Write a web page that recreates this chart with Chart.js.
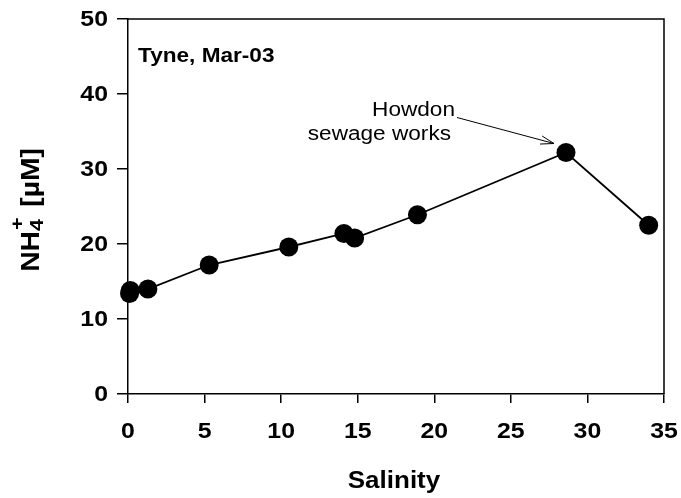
<!DOCTYPE html>
<html>
<head>
<meta charset="utf-8">
<script src="https://cdn.jsdelivr.net/npm/chart.js@4.4.1/dist/chart.umd.min.js"></script>
<style>
  html, body { margin: 0; padding: 0; background: #fff; }
  #wrap { width: 681px; height: 498px; }
</style>
</head>
<body>
<div id="wrap"><canvas id="c" width="681" height="498"></canvas></div>
<script>
// Tyne estuary, March 2003: ammonium against salinity
const salinity = [0.1, 0.15, 1.3, 5.3, 10.5, 14.1, 14.8, 18.9, 28.6, 34.0];
const ammonium = [13.4, 13.8, 14.0, 17.2, 19.6, 21.4, 20.8, 23.9, 32.2, 22.5];
const xTicks = [0, 5, 10, 15, 20, 25, 30, 35];
const yTicks = [0, 10, 20, 30, 40, 50];
const xTitle = 'Salinity';
const panelLabel = 'Tyne, Mar-03';
const noteLines = ['Howdon', 'sewage works'];
const noteIndex = 8; // the point the note arrow refers to

const points = salinity.map((s, i) => ({ x: s, y: ammonium[i] }));
const FONT = '"Liberation Sans", Arial, Helvetica, sans-serif';
const STRETCH = 1.13; // wide lettering

// draw text widened horizontally around its anchor
function wideText(ctx, text, x, y, align) {
  ctx.save();
  ctx.translate(x, y);
  ctx.scale(STRETCH, 1);
  ctx.textAlign = align;
  ctx.fillText(text, 0, 0);
  ctx.restore();
}

const decorations = {
  id: 'decorations',
  afterDraw(chart) {
    const ctx = chart.ctx;
    const a = chart.chartArea;
    const xs = chart.scales.x, ys = chart.scales.y;
    ctx.save();
    // top and right frame lines
    ctx.strokeStyle = '#000';
    ctx.lineWidth = 1.5;
    ctx.beginPath();
    ctx.moveTo(a.left, a.top);
    ctx.lineTo(a.right, a.top);
    ctx.lineTo(a.right, a.bottom);
    ctx.stroke();

    ctx.fillStyle = '#000';
    ctx.textBaseline = 'middle';
    // tick labels
    ctx.font = 'bold 22px ' + FONT;
    yTicks.forEach(v => wideText(ctx, String(v), a.left - 20, ys.getPixelForValue(v) + 1, 'right'));
    xTicks.forEach(v => wideText(ctx, String(v), xs.getPixelForValue(v), a.bottom + 38, 'center'));

    // x title
    ctx.font = 'bold 23px ' + FONT;
    wideText(ctx, xTitle, (a.left + a.right) / 2 - 2, 482, 'center');

    // panel label
    ctx.textBaseline = 'alphabetic';
    ctx.font = 'bold 20px ' + FONT;
    wideText(ctx, panelLabel, a.left + 10, 62, 'left');

    // annotation text and arrow
    const px = xs.getPixelForValue(salinity[noteIndex]);
    const py = ys.getPixelForValue(ammonium[noteIndex]);
    ctx.font = '20px ' + FONT;
    wideText(ctx, noteLines[0], px - 111, py - 37, 'right');
    wideText(ctx, noteLines[1], px - 115, py - 13, 'right');

    const x0 = px - 109, y0 = py - 35;
    const x1 = px - 12, y1 = py - 9;
    ctx.lineWidth = 1;
    ctx.beginPath();
    ctx.moveTo(x0, y0);
    ctx.lineTo(x1, y1);
    const ang = Math.atan2(y1 - y0, x1 - x0);
    const L = 14, w = 0.3;
    ctx.moveTo(x1 - L * Math.cos(ang - w), y1 - L * Math.sin(ang - w));
    ctx.lineTo(x1, y1);
    ctx.lineTo(x1 - L * Math.cos(ang + w), y1 - L * Math.sin(ang + w));
    ctx.stroke();

    // y-axis title with subscript and superscript
    ctx.translate(39, 210);
    ctx.rotate(-Math.PI / 2);
    ctx.scale(STRETCH, 1);
    const big = 'bold 25px ' + FONT;
    const small = 'bold 19px ' + FONT;
    ctx.textAlign = 'left';
    ctx.textBaseline = 'alphabetic';
    ctx.font = big;
    const wNH = ctx.measureText('NH').width;
    const wRest = ctx.measureText(' [\u00B5M]').width;
    ctx.font = small;
    const w4 = ctx.measureText('4').width;
    const total = wNH + w4 + 4 + wRest;
    let x = -total / 2;
    ctx.font = big;
    ctx.fillText('NH', x, 0);
    x += wNH;
    ctx.font = small;
    ctx.fillText('4', x, 4);
    ctx.fillText('+', x + 1, -16);
    x += w4 + 4;
    ctx.font = big;
    ctx.fillText(' [\u00B5M]', x, 0);
    ctx.restore();
  }
};

new Chart(document.getElementById('c'), {
  type: 'scatter',
  data: {
    datasets: [{
      data: points,
      showLine: true,
      clip: false,
      borderColor: '#000',
      borderWidth: 1.8,
      backgroundColor: '#000',
      pointBackgroundColor: '#000',
      pointBorderColor: '#000',
      pointRadius: 9.5,
      pointBorderWidth: 0,
      tension: 0
    }]
  },
  options: {
    responsive: false,
    animation: false,
    events: [],
    layout: { padding: { left: 0, right: 17, top: 19, bottom: 0 } },
    plugins: { legend: { display: false }, tooltip: { enabled: false } },
    scales: {
      x: {
        type: 'linear',
        min: 0, max: 35,
        afterFit(s) { s.height = 104; },
        afterBuildTicks(s) { s.ticks = xTicks.map(v => ({ value: v })); },
        border: { display: true, color: '#000', width: 1.5 },
        grid: { display: true, drawOnChartArea: false, drawTicks: true, tickLength: 9, color: '#000', lineWidth: 1.5 },
        ticks: { display: false }
      },
      y: {
        type: 'linear',
        min: 0, max: 50,
        afterFit(s) { s.width = 128; },
        afterBuildTicks(s) { s.ticks = yTicks.map(v => ({ value: v })); },
        border: { display: true, color: '#000', width: 1.5 },
        grid: { display: true, drawOnChartArea: false, drawTicks: true, tickLength: 11, color: '#000', lineWidth: 1.5 },
        ticks: { display: false }
      }
    }
  },
  plugins: [decorations]
});
</script>
</body>
</html>
